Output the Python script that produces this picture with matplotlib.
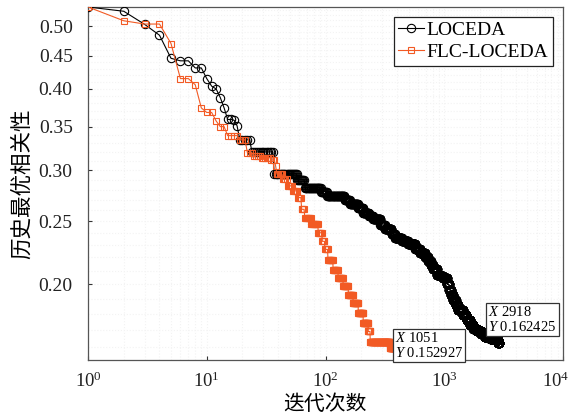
import numpy as np
import matplotlib
matplotlib.use('Agg')
import matplotlib.pyplot as plt
from matplotlib.ticker import FixedLocator, FixedFormatter, MultipleLocator, LogLocator, NullFormatter

plt.rcParams['font.family'] = ['Liberation Serif', 'DejaVu Sans']
plt.rcParams['mathtext.fontset'] = 'custom'
plt.rcParams['mathtext.rm'] = 'Liberation Serif'
plt.rcParams['mathtext.it'] = 'Liberation Serif:italic'

# 历史最优值: 只记录最优值发生变化的迭代 (迭代次数, 新的最优值)
loceda_iter = [1, 2, 3, 4, 5, 6, 8, 10, 11, 12, 13, 14, 15, 17, 18, 19, 24, 37,
               58, 67, 92, 103, 145, 161, 188, 207, 232, 251, 290, 317, 360, 385,
               440, 495, 570, 625, 690, 730, 770, 804, 869, 930, 976,
               1055, 1100, 1140, 1186, 1250, 1306, 1438, 1540, 1648, 1760, 1888,
               2050, 2203, 2450, 2674, 2850]
loceda_val = [0.535, 0.527, 0.503, 0.484, 0.446, 0.442, 0.431, 0.415, 0.404, 0.400,
              0.388, 0.374, 0.359, 0.358, 0.351, 0.334, 0.320, 0.296,
              0.290, 0.282, 0.278, 0.274, 0.270, 0.266, 0.262, 0.258, 0.255, 0.252,
              0.247, 0.243, 0.239, 0.236, 0.233, 0.2305, 0.227, 0.2236, 0.220,
              0.2171, 0.2140, 0.2110, 0.2071, 0.2060, 0.2046,
              0.1999, 0.1960, 0.1925, 0.1894, 0.1860, 0.1827, 0.1795, 0.1765,
              0.1733, 0.1710, 0.1692, 0.1676, 0.1662, 0.1650, 0.1642, 0.162425]
loceda_last = 2918

flc_iter = [1, 2, 3, 5, 6, 8, 9, 10, 12, 13, 15, 19, 22, 25, 29, 35, 38, 39, 44,
            48, 53, 59, 63, 67, 76, 87, 94, 99, 105, 116, 128, 141, 156, 171, 189,
            208, 229, 238, 350, 420, 514]
flc_val = [0.535, 0.5095, 0.5036, 0.470, 0.415, 0.406, 0.374, 0.368, 0.357, 0.350,
           0.339, 0.334, 0.319, 0.3157, 0.3135, 0.311, 0.3045, 0.2957, 0.2905,
           0.2837, 0.2787, 0.2721, 0.2610, 0.2534, 0.2475, 0.2402, 0.2330, 0.2264,
           0.2184, 0.2108, 0.2046, 0.1986, 0.1928, 0.1871, 0.1806, 0.1743, 0.1692,
           0.1633, 0.1593, 0.1560, 0.152927]
flc_last = 1051

yticks = [0.20, 0.25, 0.30, 0.35, 0.40, 0.45, 0.50]
ytick_labels = ['0.20', '0.25', '0.30', '0.35', '0.40', '0.45', '0.50']
xticks = [1, 10, 100, 1000, 10000]
xtick_labels = [r'$10^{0}$', r'$10^{1}$', r'$10^{2}$', r'$10^{3}$', '']
xtick_last = r'$10^{4}$'


def expand(iters, vals, last):
    # 每一代都保持到目前为止的最优值
    it = np.arange(1, last + 1)
    idx = np.searchsorted(iters, it, side='right') - 1
    return it, np.asarray(vals)[idx]


x1, y1 = expand(loceda_iter, loceda_val, loceda_last)
x2, y2 = expand(flc_iter, flc_val, flc_last)

fig = plt.figure(figsize=(5.72, 4.18), dpi=100)
ax = fig.add_axes([88 / 572, 1 - 360 / 418, 475 / 572, 353 / 418])

ax.plot(x1, y1, '-o', color='black', mfc='none', ms=6, mew=0.8, lw=0.8,
        label='LOCEDA', zorder=3)
ax.plot(x2, y2, '-s', color='#F25A24', mfc='none', ms=4.5, mew=0.8, lw=0.8,
        label='FLC-LOCEDA', zorder=4)

ax.set_xscale('log')
ax.set_yscale('log')
ax.set_xlim(1, 1e4)
ax.set_ylim(min(y1.min(), y2.min()), max(y1.max(), y2.max()))

ax.yaxis.set_major_locator(FixedLocator(yticks))
ax.yaxis.set_major_formatter(FixedFormatter(ytick_labels))
ax.yaxis.set_minor_locator(MultipleLocator(0.01))
ax.yaxis.set_minor_formatter(NullFormatter())
ax.xaxis.set_major_locator(FixedLocator(xticks))
ax.xaxis.set_major_formatter(FixedFormatter(xtick_labels))
ax.xaxis.set_minor_locator(LogLocator(base=10, subs=np.arange(2, 10), numticks=20))
ax.xaxis.set_minor_formatter(NullFormatter())

ax.tick_params(which='major', direction='in', length=3, width=0.8,
               labelsize=14, colors='#333333', labelcolor='#222222')
ax.tick_params(which='minor', length=0)
ax.tick_params(axis='x', pad=8, labelsize=13.5)
ax.tick_params(axis='y', pad=11)

# 最右端的刻度标签稍向左移, 以免被图边裁掉
ax.annotate(xtick_last, xy=(xticks[-1], 0), xycoords=('data', 'axes fraction'),
            xytext=(-5, -8), textcoords='offset points', ha='center', va='top',
            fontsize=13.5, color='#222222')

ax.grid(True, which='both', color='#f3f3f3', linestyle=':', linewidth=0.8)
ax.set_axisbelow(True)

for s in ax.spines.values():
    s.set_color('#555555')
    s.set_linewidth(0.9)

ax.set_xlabel('迭代次数', family=['Noto Sans CJK SC'], fontsize=15, labelpad=2)
ax.set_ylabel('历史最优相关性', family=['Noto Sans CJK SC'], fontsize=15.5, labelpad=4)

leg = ax.legend(loc='upper right', fontsize=14, fancybox=False, framealpha=1,
                edgecolor='#222222', borderaxespad=0.5, handlelength=1.3,
                handletextpad=0.15, borderpad=0.25, labelspacing=0.2)
leg.get_frame().set_linewidth(0.9)

tip = dict(boxstyle='square,pad=0.15', fc='white', ec='#333333', lw=0.9)
ax.annotate(r'$\mathit{X}$ 1051' + '\n' + r'$\mathit{Y}$ 0.152927',
            xy=(flc_last, flc_val[-1]), xytext=(-52, 29), textcoords='offset pixels',
            ha='left', va='top', fontsize=10.5, linespacing=1.05, bbox=tip, zorder=6)
ax.annotate(r'$\mathit{X}$ 2918' + '\n' + r'$\mathit{Y}$ 0.162425',
            xy=(loceda_last, loceda_val[-1]), xytext=(-11, 38), textcoords='offset pixels',
            ha='left', va='top', fontsize=10.5, linespacing=1.05, bbox=tip, zorder=6)

fig.savefig('out.png', dpi=100)
